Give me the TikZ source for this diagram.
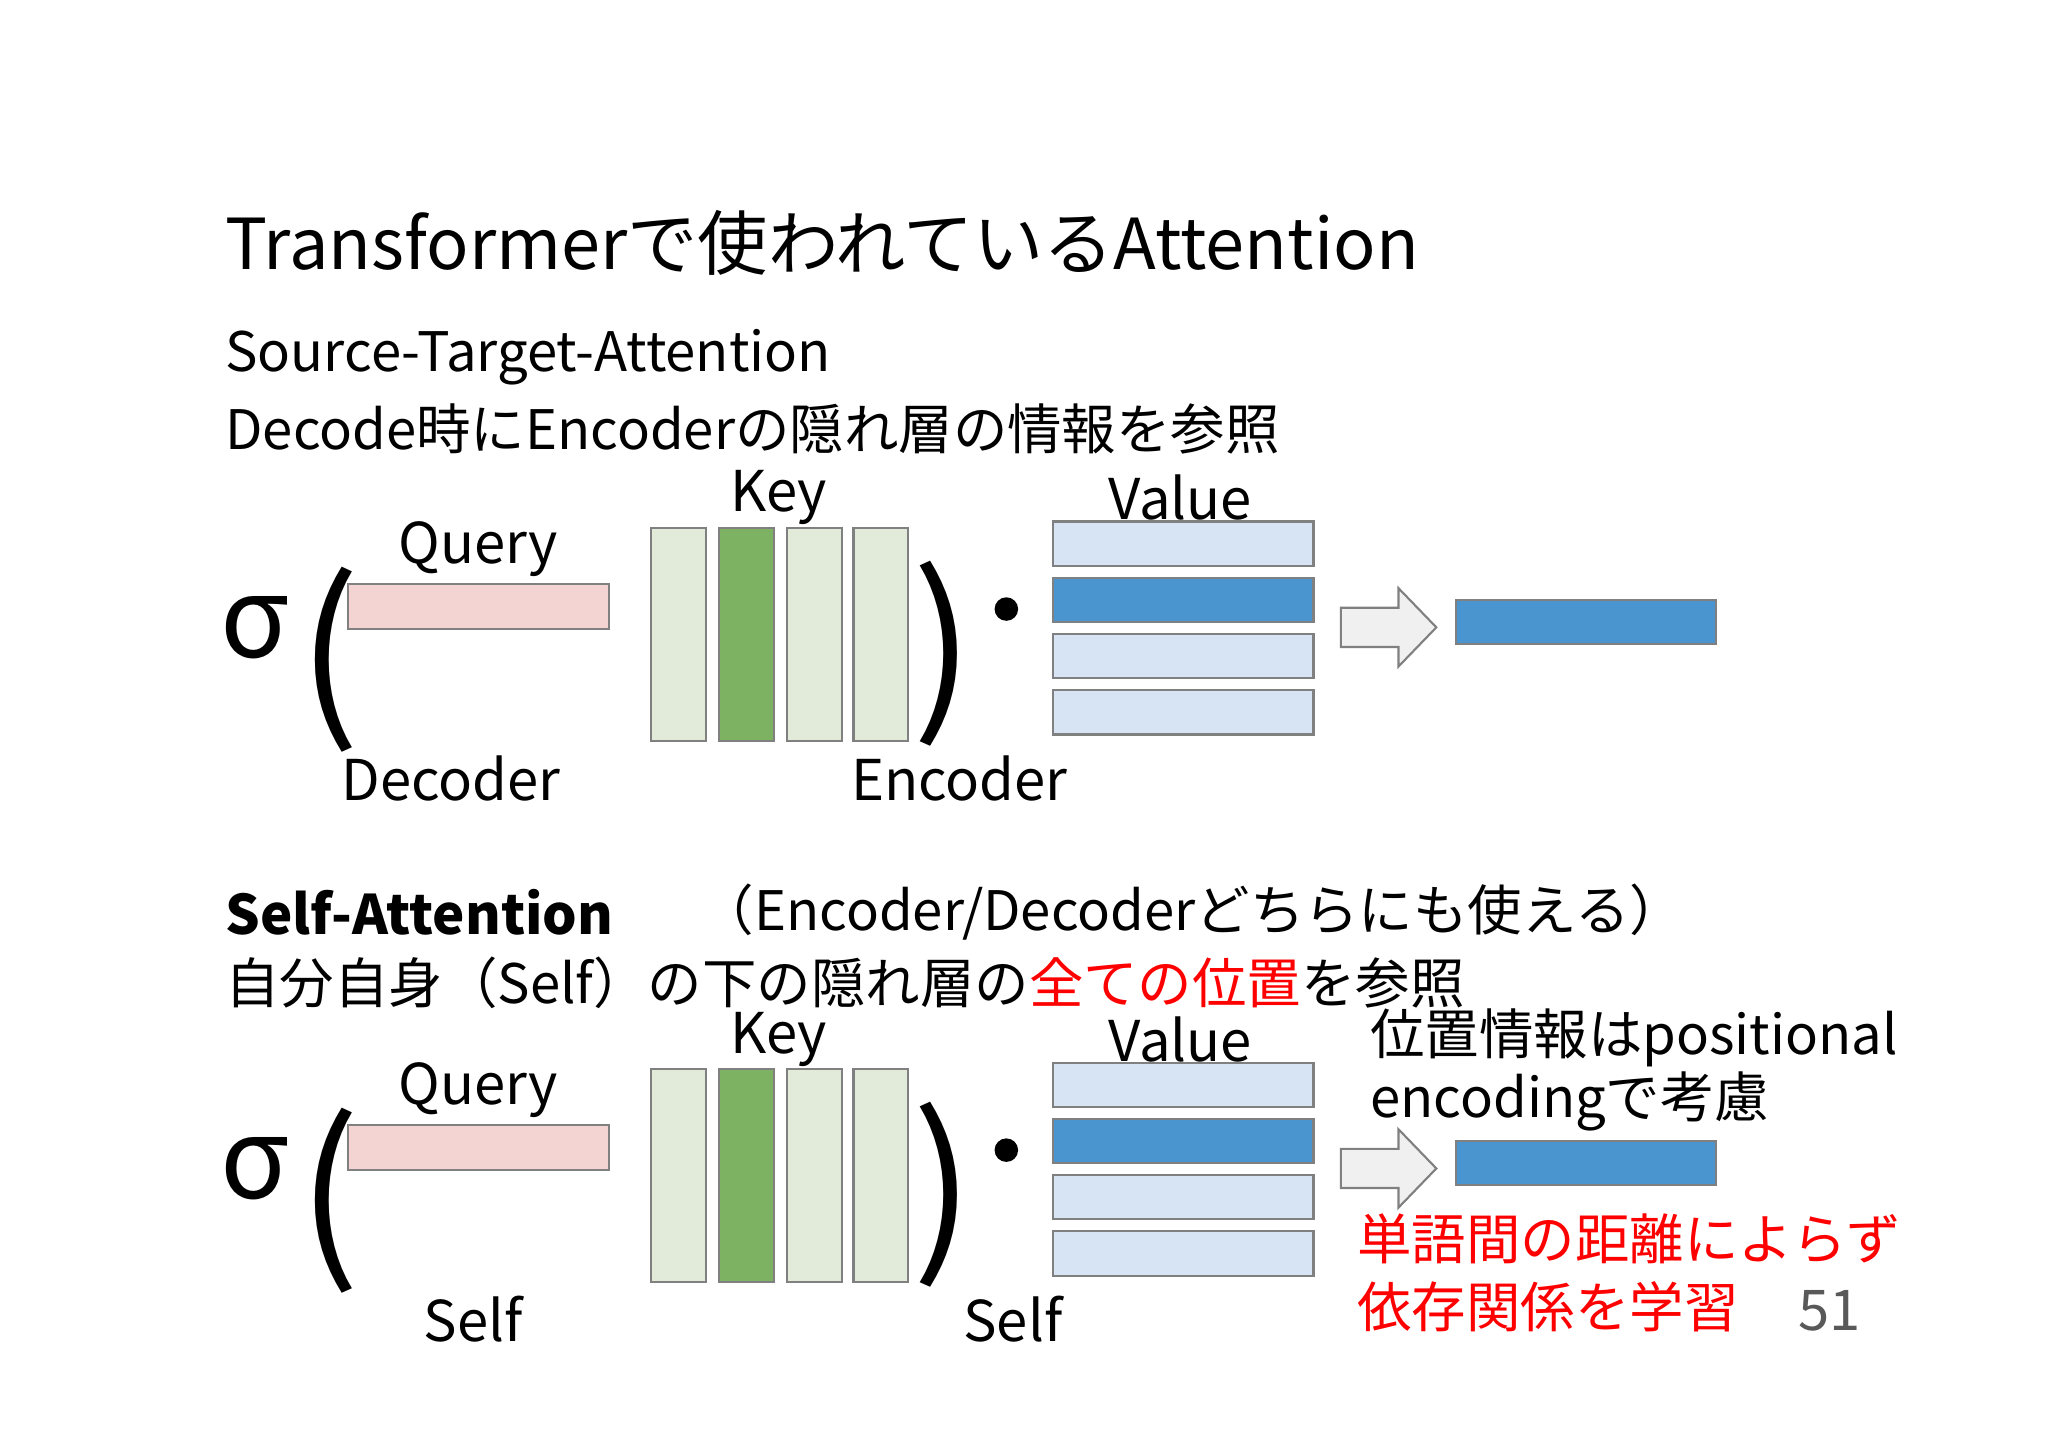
\documentclass[tikz,border=0pt]{standalone}
\usepackage{fontspec}
\setmainfont{Noto Sans CJK JP}
\definecolor{qpink}{HTML}{F4D3D3}
\definecolor{klg}{HTML}{E2EBD9}
\definecolor{kdg}{HTML}{7DB262}
\definecolor{vlb}{HTML}{D6E4F3}
\definecolor{vdb}{HTML}{4A94D0}
\definecolor{bord}{HTML}{808080}
\definecolor{myred}{HTML}{FF0000}
\tikzset{
 bx/.style={draw=bord, line width=0.6pt},
 lbl/.style={inner sep=0pt, font=\fontsize{16pt}{18pt}\selectfont},
 sub/.style={inner sep=0pt, anchor=west, font=\fontsize{15.5pt}{18pt}\selectfont},
}
\begin{document}
\begin{tikzpicture}[x=0.01307cm,y=-0.01307cm]
\useasboundingbox (0,0) rectangle (1567,1107.2);
\fill[white] (0,0) rectangle (1567,1107.2);
\node[inner sep=0pt,anchor=west,font=\fontsize{20pt}{24pt}\selectfont] (title) at (172,186) {Transformerで使われているAttention};
\node[sub] (s1) at (172,273) {Source-Target-Attention};
\node[sub] (s2) at (172,328) {Decode時にEncoderの隠れ層の情報を参照};
\node[sub] (s3) at (172,698) {\textbf{Self-Attention}};
\node[sub] (s3b) at (535,698) {（Encoder/Decoderどちらにも使える）};
\node[sub] (s4) at (172,752) {自分自身（Self）の下の隠れ層の\textcolor{myred}{全ての位置}を参照};
\node[sub] (p1) at (1048,794) {位置情報はpositional};
\node[sub] (p2) at (1048,843) {encodingで考慮};
\node[sub,text=myred] (r1) at (1038,948) {単語間の距離によらず};
\node[sub,text=myred] (r2) at (1038,1000) {依存関係を学習};
\node[lbl,text=black!65] (num) at (1400,1003) {51};
\foreach \dy/\n in {0/a, 414/b}{
 \begin{scope}[yshift=-\dy*0.01307cm]
 \node[inner sep=0pt,font=\fontsize{32pt}{36pt}\selectfont] (sig\n) at (195,480) {σ};
 \node[inner sep=0pt,font=\fontsize{52pt}{56pt}\selectfont] (lp\n) at (252,505) {(};
 \node[inner sep=0pt,font=\fontsize{52pt}{56pt}\selectfont] (rp\n) at (722,500) {)};
 \fill (770,466) circle (9);
 \draw[bx,fill=qpink] (266,447) rectangle (466,481);
 \draw[bx,fill=klg] (498,404) rectangle (540,567);
 \draw[bx,fill=kdg] (550,404) rectangle (592,567);
 \draw[bx,fill=klg] (602,404) rectangle (644,567);
 \draw[bx,fill=klg] (653,404) rectangle (695,567);
 \draw[bx,fill=vlb] (806,399) rectangle (1005,433);
 \draw[bx,fill=vdb] (806,442) rectangle (1005,476);
 \draw[bx,fill=vlb] (806,485) rectangle (1005,519);
 \draw[bx,fill=vlb] (806,528) rectangle (1005,562);
 \draw[bx,fill=black!6] (1026,465) -- (1070,465) -- (1070,450) -- (1099,480) -- (1070,510) -- (1070,495) -- (1026,495) -- cycle;
 \draw[bx,fill=vdb] (1114,459) rectangle (1313,493);
 \node[lbl] (q\n) at (366,420) {Query};
 \node[lbl] (k\n) at (596,381) {Key};
 \node[lbl] (v\n) at (903,381) {Value};
 \end{scope}
}
\node[lbl] (la) at (345,596) {Decoder};
\node[lbl] (ra) at (734,596) {Encoder};
\node[lbl] (lb) at (362,1009) {Self};
\node[lbl] (rb) at (775,1009) {Self};
\end{tikzpicture}
\end{document}
